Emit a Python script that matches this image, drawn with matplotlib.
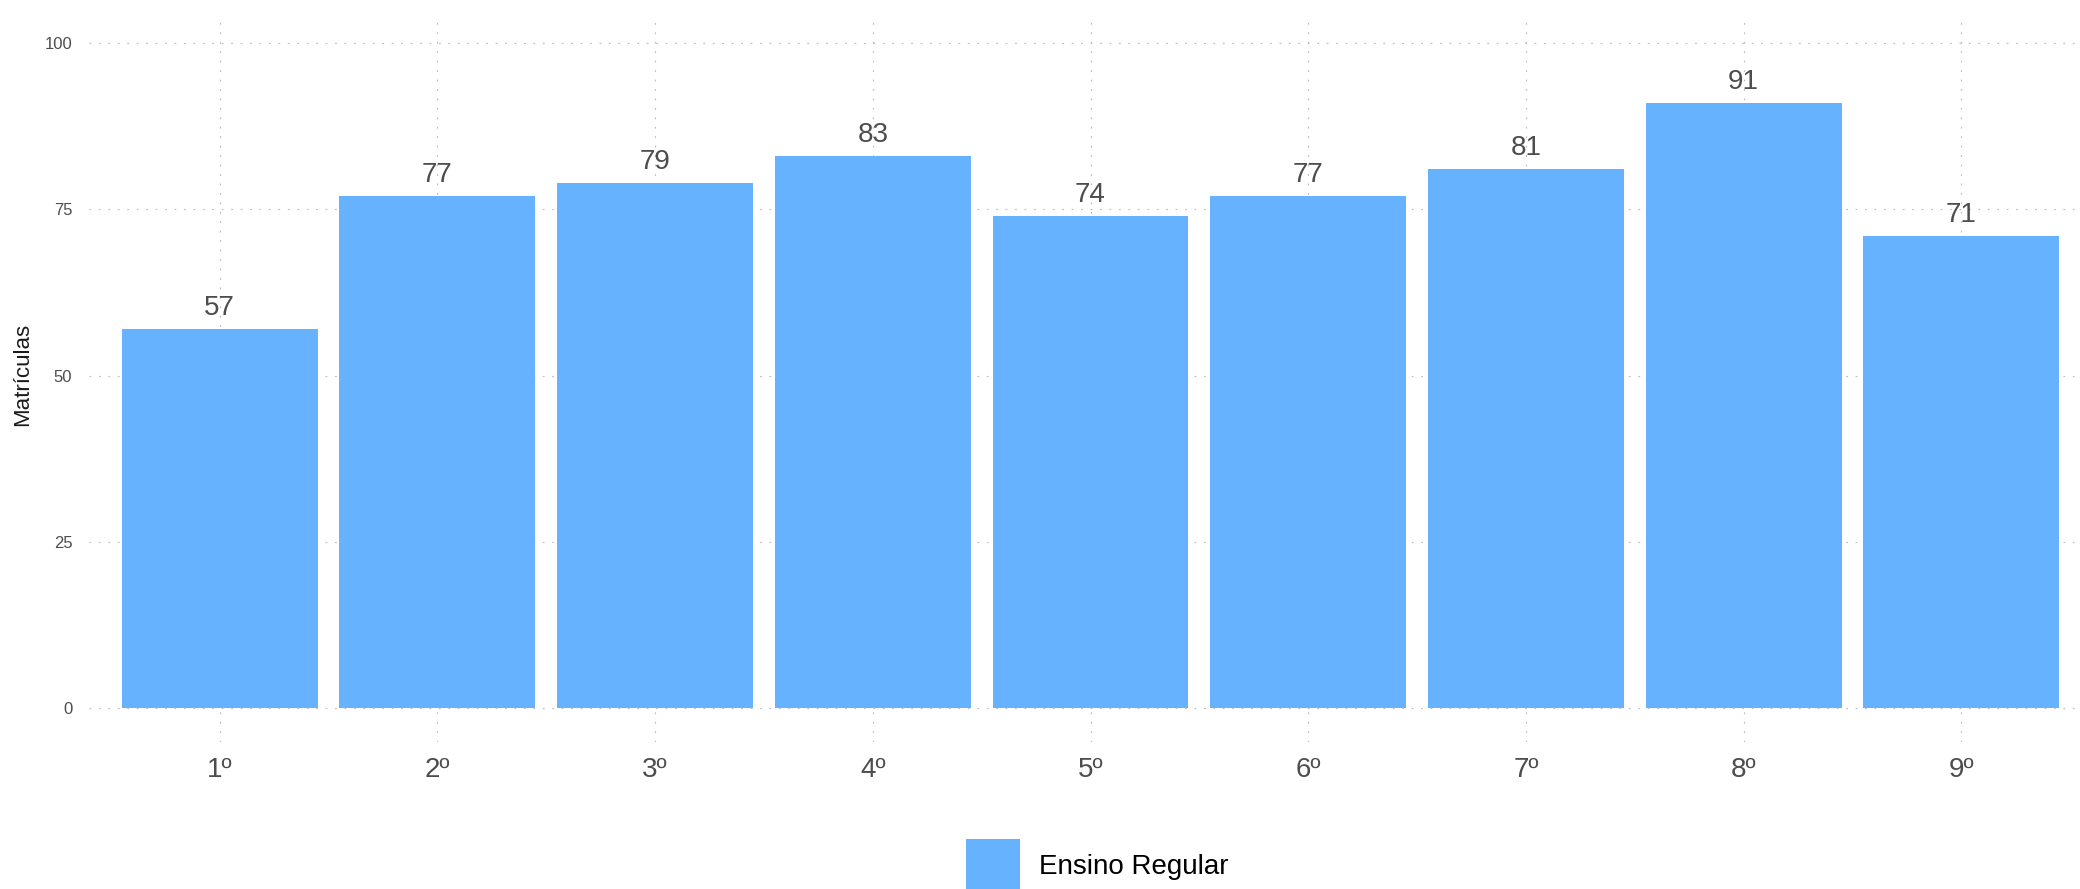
import matplotlib.pyplot as plt
from matplotlib.patches import Patch

plt.rcParams['font.family'] = ['Liberation Sans', 'DejaVu Sans']

# data
series_name = 'Ensino Regular'
anos = ['1º', '2º', '3º', '4º', '5º', '6º', '7º', '8º', '9º']
matriculas = [57, 77, 79, 83, 74, 77, 81, 91, 71]
yticks = [0, 25, 50, 75, 100]

bar_color = '#66B2FF'
grid_color = '#bdbdbd'
text_grey = '#4d4d4d'

W, H = 2080, 889
fig = plt.figure(figsize=(W / 100, H / 100), dpi=100)

# panel in pixel coords: left 89, right 2092, top 15, bottom 742
left, right, top, bottom = 89, 2092, 15, 742
ax = fig.add_axes([left / W, 1 - bottom / H, (right - left) / W, (bottom - top) / H])

x = list(range(1, len(anos) + 1))
ax.bar(x, matriculas, width=0.9, color=bar_color, zorder=2)

for xi, v in zip(x, matriculas):
    ax.annotate(str(v), (xi, v), xytext=(0, 10), textcoords='offset points',
                ha='center', va='baseline', fontsize=20, color=text_grey, zorder=3)

ax.set_xlim(0.4, 9.6)
ax.set_ylim(-5.1, 104.2)
ax.set_xticks(x)
ax.set_xticklabels(anos)
ax.set_yticks(yticks)

ax.grid(True, color=grid_color, linewidth=0.85, linestyle=(0, (1.5, 6.5)), zorder=0)
ax.set_axisbelow(True)
for s in ax.spines.values():
    s.set_visible(False)

ax.tick_params(axis='x', length=0, pad=11, labelsize=20, labelcolor=text_grey)
ax.tick_params(axis='y', length=0, pad=12, labelsize=12, labelcolor=text_grey)

ax.set_ylabel('Matrículas', fontsize=16, color='#1a1a1a', va='center')
ax.yaxis.set_label_coords(-0.033, 0.505)

handle = Patch(facecolor=bar_color, edgecolor='none', label=series_name)
fig.legend(handles=[handle], loc='center left', bbox_to_anchor=(955 / W, 1 - 866 / H),
           frameon=False, fontsize=20, handlelength=1.925, handleheight=2.57,
           handletextpad=0.7, borderaxespad=0)

fig.savefig('out.png', dpi=100, facecolor='white')
